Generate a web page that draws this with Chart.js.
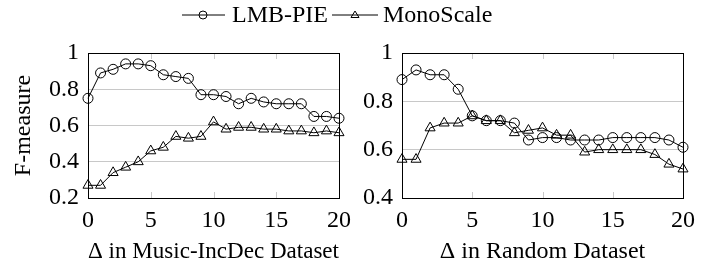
<!DOCTYPE html>
<html>
<head>
<meta charset="utf-8">
<script src="https://cdn.jsdelivr.net/npm/chart.js@4/dist/chart.umd.min.js"></script>
<style>
  html, body { margin: 0; padding: 0; background: #fff; }
  #wrap { position: relative; width: 722px; height: 265px; overflow: hidden; }
  canvas { position: absolute; top: 0; }
  #c1 { left: 0; }
  #c2 { left: 360px; }
  #legend { position: absolute; left: 0; top: 0; }
</style>
</head>
<body>
<div id="wrap">
  <canvas id="c1" width="360" height="265"></canvas>
  <canvas id="c2" width="362" height="265"></canvas>
  <svg id="legend" width="722" height="32" xmlns="http://www.w3.org/2000/svg">
    <line x1="182" y1="15" x2="225" y2="15" stroke="#000" stroke-width="1"/>
    <circle cx="203" cy="15" r="4" fill="none" stroke="#000" stroke-width="1"/>
    <text x="232" y="22" font-family="Liberation Serif" font-size="24" fill="#000">LMB-PIE</text>
    <line x1="332" y1="15" x2="378" y2="15" stroke="#000" stroke-width="1"/>
    <polygon points="355,11 359,17.5 351,17.5" fill="none" stroke="#000" stroke-width="1"/>
    <text x="383" y="22" font-family="Liberation Serif" font-size="24" fill="#000">MonoScale</text>
  </svg>
</div>
<script>
// ---- data ----
const deltas = [0,1,2,3,4,5,6,7,8,9,10,11,12,13,14,15,16,17,18,19,20];
const seriesNames = ["LMB-PIE", "MonoScale"];

const musicLMB  = [0.75,0.89,0.91,0.94,0.94,0.93,0.88,0.87,0.86,0.77,0.77,0.76,0.72,0.75,0.73,0.72,0.72,0.72,0.65,0.65,0.64];
const musicMono = [0.27,0.27,0.34,0.37,0.40,0.46,0.48,0.54,0.53,0.54,0.62,0.58,0.59,0.59,0.58,0.58,0.57,0.57,0.56,0.57,0.56];

const randLMB   = [0.89,0.93,0.91,0.91,0.85,0.74,0.72,0.72,0.71,0.64,0.65,0.65,0.64,0.64,0.64,0.65,0.65,0.65,0.65,0.64,0.61];
const randMono  = [0.56,0.56,0.69,0.71,0.71,0.74,0.72,0.72,0.67,0.68,0.69,0.66,0.66,0.59,0.60,0.60,0.60,0.60,0.58,0.54,0.52];

const xTicks = [0,5,10,15,20];
const yTicksMusic = [0.2,0.4,0.6,0.8,1];
const yTicksRand  = [0.4,0.6,0.8,1];

const xTitles = ["\u0394 in Music-IncDec Dataset", "\u0394 in Random Dataset"];
const yTitle = "F-measure";

// ---- helpers ----
const FONT = "Liberation Serif";
const GRID = "#c8c8c8";

function pts(vals) { return deltas.map((d, i) => ({ x: d, y: vals[i] })); }

const frame = {
  id: 'frame',
  afterDatasetsDraw(chart) {
    const a = chart.chartArea, ctx = chart.ctx, xs = chart.scales.x;
    ctx.save();
    ctx.strokeStyle = GRID;
    ctx.lineWidth = 1;
    xTicks.forEach(t => {
      if (t === xTicks[0] || t === xTicks[xTicks.length - 1]) return;
      const px = Math.round(xs.getPixelForValue(t)) + 0.5;
      ctx.beginPath();
      ctx.moveTo(px, a.top); ctx.lineTo(px, a.top + 6);
      ctx.moveTo(px, a.bottom); ctx.lineTo(px, a.bottom - 6);
      ctx.stroke();
    });
    ctx.strokeStyle = '#000';
    ctx.strokeRect(Math.round(a.left) + 0.5, Math.round(a.top) + 0.5,
                   Math.round(a.right - a.left), Math.round(a.bottom - a.top));
    ctx.restore();
  }
};

function makeChart(id, lmb, mono, yTicks, xTitle, showYTitle, yWidth, padRight) {
  const yMin = yTicks[0], yMax = yTicks[yTicks.length - 1];
  return new Chart(document.getElementById(id), {
    type: 'line',
    data: {
      datasets: [
        { label: seriesNames[0], data: pts(lmb), borderColor: '#000', borderWidth: 1,
          backgroundColor: 'rgba(0,0,0,0)', pointStyle: 'circle', pointRadius: 5,
          pointBorderWidth: 1, pointBorderColor: '#000', pointBackgroundColor: 'rgba(0,0,0,0)',
          tension: 0 },
        { label: seriesNames[1], data: pts(mono), borderColor: '#000', borderWidth: 1,
          backgroundColor: 'rgba(0,0,0,0)', pointStyle: 'triangle', pointRadius: 5.8,
          pointBorderWidth: 1, pointBorderColor: '#000', pointBackgroundColor: 'rgba(0,0,0,0)',
          tension: 0 }
      ]
    },
    options: {
      responsive: false,
      animation: false,
      devicePixelRatio: 1,
      clip: false,
      layout: { padding: { top: 53, right: padRight, left: 0, bottom: 0 } },
      plugins: { legend: { display: false }, tooltip: { enabled: false } },
      scales: {
        x: {
          type: 'linear', min: 0, max: 20,
          afterBuildTicks: s => { s.ticks = xTicks.map(v => ({ value: v })); },
          afterFit: s => { s.height = 67; },
          grid: { display: false, drawTicks: false },
          border: { display: false },
          ticks: { color: '#000', padding: 8, maxRotation: 0, font: { family: FONT, size: 24 } },
          title: { display: true, text: xTitle, color: '#000', padding: { top: 0, bottom: 1 },
                   font: { family: FONT, size: 24, lineHeight: 1.0 } }
        },
        y: {
          type: 'linear', min: yMin, max: yMax,
          afterBuildTicks: s => { s.ticks = yTicks.map(v => ({ value: v })); },
          afterFit: s => { s.width = yWidth; },
          grid: { color: GRID, drawTicks: false },
          border: { display: false },
          ticks: { color: '#000', padding: 9,
                   callback: v => (Math.abs(v - 1) < 1e-9 ? '1' : v.toFixed(1)),
                   font: { family: FONT, size: 24 } },
          title: { display: showYTitle, text: yTitle, color: '#000', padding: { top: 9, bottom: 0 },
                   font: { family: FONT, size: 24 } }
        }
      }
    },
    plugins: [frame]
  });
}

makeChart('c1', musicLMB, musicMono, yTicksMusic, xTitles[0], true, 88, 21);
makeChart('c2', randLMB, randMono, yTicksRand, xTitles[1], false, 42, 39);
</script>
</body>
</html>
